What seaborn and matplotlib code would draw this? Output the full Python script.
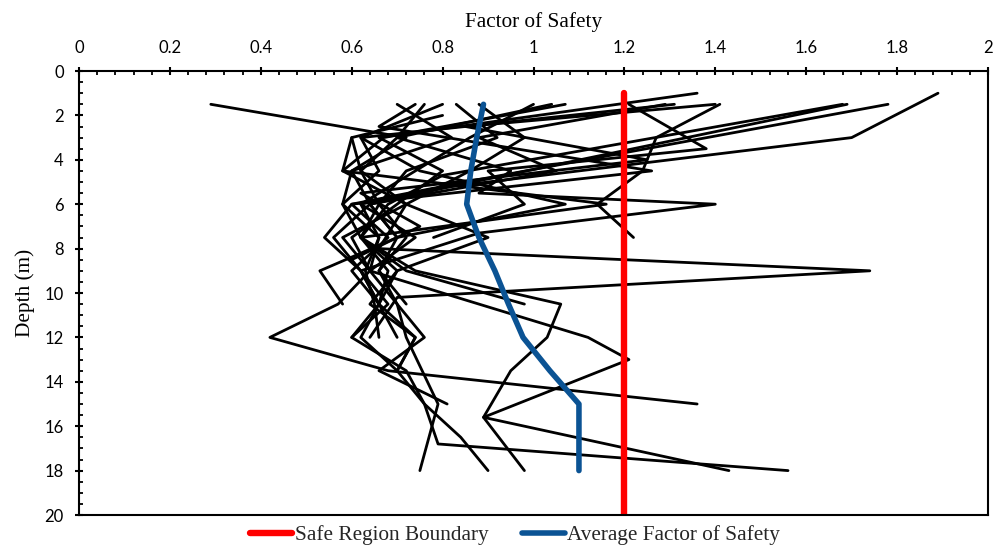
import numpy as np
import pandas as pd
import matplotlib
matplotlib.use("Agg")
import matplotlib.pyplot as plt
from matplotlib.ticker import MultipleLocator
from matplotlib.lines import Line2D
import seaborn as sns

# Factor of safety profiles per borehole (depth in m, FS)
borehole_depths = [
    [1, 3, 5.3, 6, 7.5, 9, 10.5, 12],
    [1.5, 3, 4.5, 6, 7.5, 9, 10.5, 12, 13.5, 15],
    [1.5, 5, 6, 7.5, 9, 10.5, 12],
    [1.5, 5.2, 6, 7.5, 9, 10.5],
    [1.5, 4.7, 6, 7.5, 9, 10.5, 12, 13.5],
    [1, 3, 4.5, 6, 7.5, 9],
    [1.5, 3.5, 4.5, 6, 7.5],
    [1.5, 3, 4.5, 6, 7.5],
    [1.5, 3, 4.5, 6, 7.5, 9, 10.5],
    [1.5, 3, 4.5, 6, 8, 9, 10.2, 12],
    [1.5, 3, 4.5, 5.5, 6, 7.3, 9, 10.5],
    [1.5, 3, 4.5, 6, 7.5, 9, 10.5, 12, 15, 18],
    [1.5, 3, 4.5, 6, 7.5, 9, 10.5, 12, 13.5, 15, 16.5, 18],
    [1.5, 3, 4.5, 6, 7.5, 9, 10.5, 12, 13.5, 15.6, 18],
    [1.5, 2.5, 4.5, 6, 7.5, 9, 10.5, 12, 13.5],
    [2, 3, 4.5, 6, 7.5, 9, 10.5],
    [1.5, 3, 4.5, 6, 7.5, 9, 10.5, 12, 13.5, 15, 16.8, 18],
    [3, 4.5, 6, 7.5, 9, 10.5, 12, 13.5, 15],
    [1.5, 3, 6, 7.5, 9, 10.5, 12, 13, 15.6, 18],
    [1.5, 3, 4.5, 6, 7.5, 9, 10.5, 12],
    [1.5, 2.5, 4, 5.5, 7, 8.5],
    [1.5, 3, 4.5, 6, 7.5],
]
borehole_fs = [
    [1.89, 1.70, 0.78, 0.62, 0.66, 0.63, 0.65, 0.66],
    [0.29, 0.72, 0.60, 0.58, 0.66, 0.64, 0.57, 0.42, 0.68, 1.36],
    [1.78, 0.85, 0.60, 0.54, 0.62, 0.66, 0.70],
    [1.69, 0.82, 0.64, 0.70, 0.53, 0.58],
    [1.68, 0.80, 0.68, 0.62, 0.68, 0.66, 0.74, 0.70],
    [1.36, 0.66, 0.80, 0.70, 0.60, 0.64],
    [1.21, 1.38, 0.90, 0.98, 0.78],
    [1.41, 1.27, 1.24, 1.14, 1.22],
    [1.31, 0.62, 0.75, 1.07, 0.70, 0.66, 0.72],
    [1.07, 0.67, 0.58, 0.72, 0.66, 1.74, 0.70, 0.64],
    [1.04, 0.70, 0.95, 0.88, 1.40, 0.88, 0.62, 0.66],
    [0.76, 0.70, 0.62, 0.66, 0.72, 0.66, 0.70, 0.72, 0.79, 0.75],
    [0.80, 0.62, 0.66, 0.58, 0.62, 0.70, 0.64, 0.74, 0.70, 0.76, 0.84, 0.90],
    [0.83, 0.92, 0.72, 0.66, 0.62, 0.74, 1.06, 1.03, 0.95, 0.89, 0.98],
    [0.74, 0.66, 1.26, 0.60, 0.68, 0.60, 0.66, 0.62, 0.70],
    [0.80, 0.60, 0.58, 1.16, 0.62, 0.72, 0.98],
    [0.88, 0.98, 0.86, 0.72, 0.90, 0.70, 0.66, 0.60, 0.72, 0.76, 0.79, 1.56],
    [0.60, 0.62, 0.72, 0.58, 0.64, 0.70, 0.76, 0.66, 0.81],
    [1.00, 0.86, 0.62, 0.74, 0.64, 0.88, 1.12, 1.21, 0.89, 1.43],
    [0.70, 0.82, 0.60, 0.64, 0.56, 0.62, 0.68, 0.60],
    [1.40, 0.85, 1.25, 0.62, 0.75, 0.60],
    [1.29, 0.88, 1.05, 0.64, 0.70],
]

avg_depth = [1.5, 3, 4.5, 6, 7.5, 9, 10.5, 12, 13.5, 15, 16.5, 18]
avg_fs = [0.89, 0.875, 0.862, 0.853, 0.88, 0.915, 0.945, 0.977, 1.036, 1.10, 1.10, 1.10]

safe_depth = [1, 20]
safe_fs = [1.2, 1.2]

rows = []
for i, (d, f) in enumerate(zip(borehole_depths, borehole_fs)):
    for dd, ff in zip(d, f):
        rows.append({"bh": i, "depth": dd, "fs": ff})
profiles = pd.DataFrame(rows)

sns.set_theme(style="ticks")
plt.rcParams["font.family"] = ["Lato", "DejaVu Sans"]

fig = plt.figure(figsize=(9.99, 5.48), dpi=100)
ax = fig.add_axes([79 / 999, 1 - 515 / 548, (988 - 79) / 999, (515 - 71) / 548])

sns.lineplot(data=profiles, x="fs", y="depth", units="bh", estimator=None,
             sort=False, color="black", linewidth=2.0, ax=ax, legend=False)
sns.lineplot(x=safe_fs, y=safe_depth, estimator=None, sort=False,
             color="#ff0000", linewidth=4.6, ax=ax, solid_capstyle="round")
sns.lineplot(x=avg_fs, y=avg_depth, estimator=None, sort=False,
             color="#0b5394", linewidth=4.0, ax=ax, solid_capstyle="round")

ax.set_xlim(0, 2)
ax.set_ylim(20, 0)
ax.xaxis.tick_top()
ax.xaxis.set_label_position("top")
ax.xaxis.set_major_locator(MultipleLocator(0.2))
ax.xaxis.set_minor_locator(MultipleLocator(0.04))
ax.yaxis.set_major_locator(MultipleLocator(2))
ax.yaxis.set_minor_locator(MultipleLocator(0.5))
ax.set_xticklabels([f"{v:g}" for v in np.round(ax.get_xticks(), 1)])

for s in ax.spines.values():
    s.set_linewidth(1.5)
    s.set_color("black")
ax.tick_params(which="major", direction="inout", length=6, width=1.5,
               labelsize=12, colors="black", pad=8)
ax.tick_params(which="minor", direction="in", length=3.2, width=1.3, colors="black")
ax.tick_params(axis="y", which="both", right=False)
ax.tick_params(axis="x", which="both", bottom=False)

serif = {"family": ["Liberation Serif", "DejaVu Serif"], "size": 15.3, "color": "black"}
ax.set_xlabel("Factor of Safety", fontdict=serif, labelpad=9)
ax.set_ylabel("Depth (m)", fontdict=serif, labelpad=7)

handles = [Line2D([], [], color="#ff0000", lw=4.6, solid_capstyle="round"),
           Line2D([], [], color="#0b5394", lw=4.0, solid_capstyle="round")]
fig.legend(handles, ["Safe Region Boundary", "Average Factor of Safety"],
           loc="center", bbox_to_anchor=(515 / 999, 1 - 535 / 548), ncol=2,
           frameon=False, handlelength=2.0, handletextpad=0.12, columnspacing=1.6,
           prop={"family": ["Liberation Serif", "DejaVu Serif"], "size": 15.3})

fig.savefig("out.png", dpi=100)
